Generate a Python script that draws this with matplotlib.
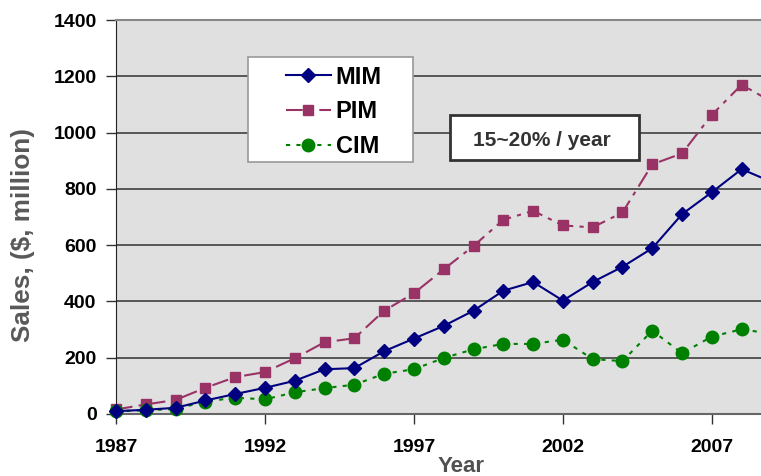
import matplotlib
matplotlib.use("Agg")
import matplotlib.pyplot as plt
from matplotlib.patches import Rectangle

plt.rcParams['font.family'] = ['Liberation Sans', 'DejaVu Sans']

years = list(range(1987, 2010))
mim = [10, 15, 22, 48, 71, 93, 118, 159, 163, 223, 268, 313, 367, 438, 469, 403,
       469, 523, 589, 710, 788, 870, 825]
pim = [16, 34, 50, 93, 131, 149, 198, 255, 269, 367, 429, 514, 597, 690, 722, 670,
       663, 716, 887, 926, 1063, 1170, 1110]
cim = [10, 13, 18, 44, 58, 52, 77, 92, 104, 143, 159, 199, 230, 249, 249, 264,
       195, 188, 296, 216, 275, 301, 285]
series_names = ["MIM", "PIM", "CIM"]
xtick_vals = [1987, 1992, 1997, 2002, 2007]
ytick_vals = [0, 200, 400, 600, 800, 1000, 1200, 1400]
annotation = "15~20% / year"

W, H = 761, 476
fig = plt.figure(figsize=(W/100, H/100), dpi=100)
ax = fig.add_axes([116/W, 1-414/H, 1-116/W, (414-20)/H])
ax.set_facecolor('#e0e0e0')

ax.plot(years, mim, color='#000080', lw=1.5, marker='D', ms=7, mfc='#000080',
        mec='#000080', label=series_names[0], clip_on=False, zorder=4)
ax.plot(years, pim, color='#993366', lw=1.5, dashes=(8, 3, 2, 3), marker='s', ms=6.5,
        mfc='#993366', mec='#993366', label=series_names[1], clip_on=False, zorder=3)
ax.plot(years, cim, color='#008000', lw=1.5, dashes=(2, 3), marker='o', ms=9,
        mfc='#008000', mec='#008000', label=series_names[2], clip_on=False, zorder=3)

ax.set_xlim(1987, 2008.65)
ax.set_ylim(0, 1400)
ax.set_xticks(xtick_vals)
ax.set_yticks(ytick_vals)
ax.yaxis.grid(True, color='#404040', lw=1.2)
ax.set_axisbelow(True)
for t in ax.get_xticklabels() + ax.get_yticklabels():
    t.set_fontweight('bold')
    t.set_fontsize(14)
ax.tick_params(axis='both', direction='out', length=7, width=1, color='#333333')
ax.tick_params(axis='x', pad=11)
ax.tick_params(axis='y', pad=7)
ax.spines['right'].set_visible(False)
ax.spines['top'].set_color('#888888')
ax.spines['top'].set_linewidth(1.5)
ax.spines['left'].set_color('#222222')
ax.spines['bottom'].set_color('#666666')
ax.spines['bottom'].set_linewidth(1.5)

fig.text(23/W, 1-235/H, "Sales, ($, million)", fontsize=18.8, fontweight='bold',
         color='#595959', ha='center', va='center', rotation=90)
fig.text(461/W, 1-467/H, "Year", fontsize=16, fontweight='bold', color='#505050',
         ha='center', va='center')

# legend frame
ax.add_patch(Rectangle((248/W, 1-162/H), (413-248)/W, (162-57)/H,
                       transform=fig.transFigure, fc='white', ec='#999999',
                       lw=1.2, zorder=5, clip_on=False))
leg = ax.legend(loc='upper left', bbox_to_anchor=((286-116)/645, (414-65.5)/394),
                frameon=False, handlelength=1.9, borderpad=0, labelspacing=0.5,
                handletextpad=0.2, borderaxespad=0,
                prop={'weight': 'bold', 'size': 17})
leg.set_zorder(6)

# annotation box
ax.add_patch(Rectangle((450/W, 1-160/H), (639-450)/W, (160-115)/H,
                       transform=fig.transFigure, fc='white', ec='#333333',
                       lw=2, zorder=5, clip_on=False))
ax.text(542/W, 1-140/H, annotation, transform=fig.transFigure,
        fontsize=15, fontweight='bold', color='#333333', ha='center', va='center',
        zorder=6)

fig.savefig('out.png', dpi=100)
